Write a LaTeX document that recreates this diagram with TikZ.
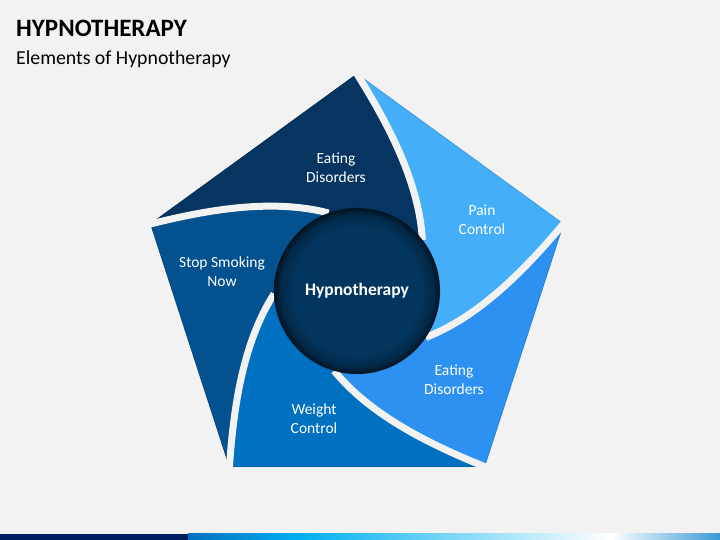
\documentclass[tikz,border=0pt]{standalone}
\usepackage{fontspec}
\setmainfont{Carlito}
\definecolor{bg}{HTML}{F2F2F2}
\definecolor{segA}{HTML}{053560}
\definecolor{segB}{HTML}{03528F}
\definecolor{segC}{HTML}{0070C0}
\definecolor{segD}{HTML}{2C91F1}
\definecolor{segE}{HTML}{44AEF9}
\definecolor{hubc}{HTML}{03365F}
\definecolor{barnavy}{HTML}{002060}
\definecolor{barblue}{HTML}{0070C0}
\definecolor{barcyan}{HTML}{00B0F0}
\definecolor{barend}{HTML}{3A9AD6}
\pgfdeclareradialshading{hubshade}{\pgfpoint{0bp}{0bp}}{color(0bp)=(hubc); color(19bp)=(hubc); color(23bp)=(hubc!75!black); color(25bp)=(hubc!35!black); color(50bp)=(hubc!35!black)}
\tikzset{
  seglabel/.style={text=white, align=center, font=\fontsize{15.5}{19}\selectfont},
  gapline/.style={draw=bg, line width=7pt, line join=round},
}
\begin{document}
\begin{tikzpicture}[x=1pt,y=1pt]
\useasboundingbox (0,0) rectangle (720,540);
\fill[bg] (0,0) rectangle (720,540);
% title
\node[anchor=base west, inner sep=0, font=\bfseries\fontsize{25}{30}\selectfont] (title) at (16,503) {HYPNOTHERAPY};
\node[anchor=base west, inner sep=0, font=\fontsize{19.8}{24}\selectfont] (subtitle) at (16,475) {Elements of Hypnotherapy};
% segments
\foreach \k/\c in {0/segA,1/segB,2/segC,3/segD,4/segE}{
  \begin{scope}[shift={(357,249)}, rotate=72*\k]
    \filldraw[fill=\c, draw=\c!88!black, line width=0.8pt, line join=miter] (-206.4,67.1) -- (0,217) .. controls (30,169) and (62,110) .. (65.4,51.1)
      arc[start angle=38, end angle=110, radius=83]
      .. controls (-85.4,93.0) and (-152.4,81.0) .. (-206.4,67.1) -- cycle;
  \end{scope}
}
% gaps
\foreach \k in {0,...,4}{
  \begin{scope}[shift={(357,249)}, rotate=72*\k]
    \draw[gapline] (-2.5,221) -- (0,217) .. controls (30,169) and (62,110) .. (65.4,51.1);
  \end{scope}
}
% hub
\node[circle, minimum size=166pt, inner sep=0, shading=hubshade, text=white,
      font=\bfseries\fontsize{17.5}{20}\selectfont] (hub) at (357,249) {Hypnotherapy};
% labels
\node[seglabel] (l1) at (336,372) {Eating\\Disorders};
\node[seglabel] (l2) at (482,320) {Pain\\Control};
\node[seglabel] (l3) at (222,268) {Stop Smoking\\Now};
\node[seglabel] (l4) at (454,160) {Eating\\Disorders};
\node[seglabel] (l5) at (314,121) {Weight\\Control};
% bottom bar
\fill[barnavy] (0,0) rectangle (188,6);
\shade[left color=barblue, right color=barcyan] (188,0) rectangle (300,6);
\shade[left color=barcyan, right color=white] (300,0) rectangle (610,6);
\shade[left color=white, right color=barend] (610,0) rectangle (720.5,6);
\end{tikzpicture}
\end{document}
